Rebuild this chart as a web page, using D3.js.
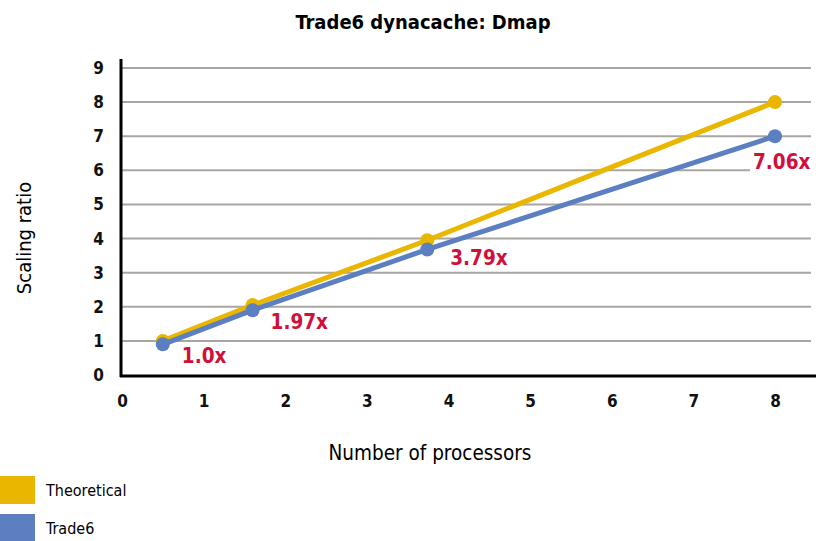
<!DOCTYPE html>
<html>
<head>
<meta charset="utf-8">
<script src="https://cdn.jsdelivr.net/npm/d3@7"></script>
<style>
  body { margin: 0; background: #fff; }
  text { font-family: "Liberation Sans Narrow", "DejaVu Sans Condensed", "Roboto Condensed", sans-serif; }
</style>
</head>
<body>
<svg id="chart" width="816" height="541"></svg>
<script>
// processors (x) for each measurement
const processors = [0.5, 1.6, 3.74, 8];
const theoretical = [1.0, 2.05, 3.95, 8.0];
const trade6 = [0.9, 1.9, 3.68, 7.0];
const trade6Labels = ["1.0x", "1.97x", "3.79x", "7.06x"];
const xTicks = [0, 1, 2, 3, 4, 5, 6, 7, 8];
const yTicks = [0, 1, 2, 3, 4, 5, 6, 7, 8, 9];
const seriesNames = ["Theoretical", "Trade6"];

const yellow = "#e9b600";
const blue = "#5b7fc1";
const red = "#d10f3a";

const svg = d3.select("#chart");

const x = d3.scaleLinear().domain([0, 8]).range([122, 775]);
const y = d3.scaleLinear().domain([0, 9]).range([375, 68]);

// title
svg.append("text")
    .attr("x", 423).attr("y", 29)
    .attr("text-anchor", "middle")
    .attr("font-size", 20).attr("font-weight", "bold")
    .text("Trade6 dynacache: Dmap");

// gridlines
svg.append("g")
    .selectAll("line")
    .data(yTicks.slice(1))
    .enter()
    .append("line")
    .attr("x1", 122).attr("x2", 811)
    .attr("y1", d => y(d)).attr("y2", d => y(d))
    .attr("stroke", "#a9a5a1")
    .attr("stroke-width", 2);

// y axis
const yAxis = svg.append("g")
    .attr("transform", "translate(121,0)")
    .call(d3.axisLeft(y).tickValues(yTicks).tickSize(0).tickPadding(17));
yAxis.select(".domain").remove();
yAxis.selectAll("text")
    .attr("font-size", 17).attr("font-weight", "bold")
    .attr("fill", "#111");

// x axis
const xAxis = svg.append("g")
    .attr("transform", "translate(0,376)")
    .call(d3.axisBottom(x).tickValues(xTicks).tickSize(0).tickPadding(19));
xAxis.select(".domain").remove();
xAxis.selectAll("text")
    .attr("font-size", 17).attr("font-weight", "bold")
    .attr("fill", "#111");

// axis lines
svg.append("line")
    .attr("x1", 121).attr("x2", 121).attr("y1", 59).attr("y2", 377)
    .attr("stroke", "#000").attr("stroke-width", 3);
svg.append("line")
    .attr("x1", 120).attr("x2", 816).attr("y1", 376).attr("y2", 376)
    .attr("stroke", "#000").attr("stroke-width", 3);

// axis titles
svg.append("text")
    .attr("transform", "translate(31,238) rotate(-90)")
    .attr("text-anchor", "middle")
    .attr("font-size", 20)
    .text("Scaling ratio");
svg.append("text")
    .attr("x", 430).attr("y", 460)
    .attr("text-anchor", "middle")
    .attr("font-size", 20.5)
    .text("Number of processors");

const line = d3.line()
    .x(d => x(d[0]))
    .y(d => y(d[1]));

const drawSeries = (vals, color) => {
    const pts = processors.map((p, i) => [p, vals[i]]);
    svg.append("path")
        .attr("d", line(pts))
        .attr("fill", "none")
        .attr("stroke", color)
        .attr("stroke-width", 5);
    svg.append("g")
        .selectAll("circle")
        .data(pts)
        .enter()
        .append("circle")
        .attr("cx", d => x(d[0]))
        .attr("cy", d => y(d[1]))
        .attr("r", 7)
        .attr("fill", color);
};

drawSeries(theoretical, yellow);
drawSeries(trade6, blue);

// value labels
const labelOffsets = [[19, 19], [18, 19], [23, 16], [-22, 33]];
const labels = svg.append("g");
trade6Labels.forEach((t, i) => {
    const lx = x(processors[i]) + labelOffsets[i][0];
    const ly = y(trade6[i]) + labelOffsets[i][1];
    const txt = labels.append("text")
        .attr("x", lx).attr("y", ly)
        .attr("font-size", 20.5).attr("font-weight", "bold")
        .attr("fill", red)
        .text(t);
    if (i === trade6Labels.length - 1) {
        const bb = txt.node().getBBox();
        labels.insert("rect", "text")
            .attr("x", bb.x - 3).attr("y", bb.y)
            .attr("width", bb.width + 6).attr("height", bb.height)
            .attr("fill", "#fff");
    }
});

// legend
const legend = svg.append("g")
    .selectAll("g")
    .data(seriesNames)
    .enter()
    .append("g")
    .attr("transform", (d, i) => "translate(0," + (476 + i * 38) + ")");
legend.append("rect")
    .attr("width", 35).attr("height", 28)
    .attr("fill", (d, i) => i === 0 ? yellow : blue);
legend.append("text")
    .attr("x", 46).attr("y", 20)
    .attr("font-size", 16)
    .text(d => d);
</script>
</body>
</html>
